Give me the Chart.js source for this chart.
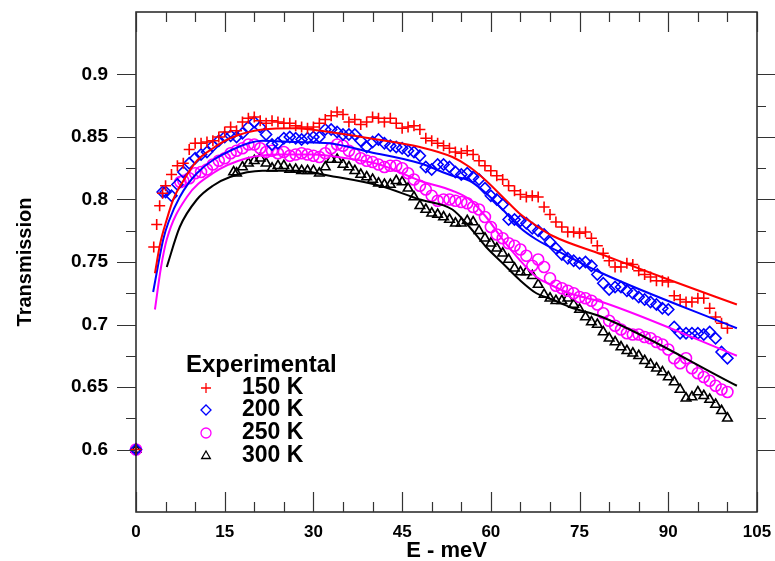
<!DOCTYPE html>
<html>
<head>
<meta charset="utf-8">
<script src="https://cdn.jsdelivr.net/npm/chart.js@4.4.1/dist/chart.umd.min.js"></script>
<style>
html,body{margin:0;padding:0;background:#fff;}
#c{display:block;}
</style>
</head>
<body>
<canvas id="c" width="775" height="561"></canvas>
<script>
// ---------- data ----------
const xTickLabels = [0, 15, 30, 45, 60, 75, 90, 105];
const yTickLabels = [0.6, 0.65, 0.7, 0.75, 0.8, 0.85, 0.9];
const legendTitle = 'Experimental';
const seriesNames = ['150 K', '200 K', '250 K', '300 K'];

// Experimental 150 K
const e150 = [0,3,3.5,4,4.5,5,6,7,8,9,10,11,12,13,14,15,16,17,18,19,20,21,22,23,24,25,26,27,28,29,30,31,32,33,34,35,36,37,38,39,40,41,42,43,44,45,46,47,48,49,50,51,52,53,54,55,56,57,58,59,60,61,62,63,64,65,66,67,68,69,70,71,72,73,74,75,76,77,78,79,80,81,82,83,84,85,86,87,88,89,90,91,92,93,94,95,96,97,98,99,100];
const t150 = [0.6,0.762,0.780,0.795,0.805,0.811,0.820,0.827,0.829,0.840,0.845,0.845,0.846,0.847,0.850,0.854,0.858,0.855,0.862,0.865,0.866,0.863,0.861,0.863,0.862,0.861,0.861,0.859,0.858,0.857,0.858,0.861,0.864,0.867,0.870,0.868,0.862,0.864,0.860,0.862,0.866,0.865,0.862,0.865,0.861,0.857,0.858,0.859,0.856,0.849,0.847,0.845,0.843,0.841,0.838,0.837,0.839,0.836,0.831,0.827,0.823,0.819,0.816,0.811,0.807,0.804,0.802,0.803,0.802,0.794,0.788,0.782,0.778,0.774,0.774,0.773,0.774,0.769,0.763,0.757,0.751,0.746,0.746,0.749,0.748,0.743,0.740,0.738,0.735,0.735,0.734,0.723,0.720,0.718,0.718,0.721,0.721,0.713,0.706,0.701,0.697];

// Experimental 200 K
const e200 = [0,4.5,5,6,7,8,9,10,11,12,13,14,15,16,17,18,19,20,21,22,23,24,25,26,27,28,29,30,31,32,33,34,35,36,37,38,39,40,41,42,43,44,45,46,47,48,49,50,51,52,53,54,55,56,57,58,59,60,61,62,63,64,65,66,67,68,69,70,71,72,73,74,75,76,77,78,79,80,81,82,83,84,85,86,87,88,89,90,91,92,93,94,95,96,97,98,99,100];
const t200 = [0.6,0.806,0.806,0.803,0.812,0.822,0.829,0.833,0.836,0.838,0.843,0.847,0.850,0.851,0.850,0.853,0.858,0.862,0.858,0.852,0.844,0.845,0.849,0.850,0.849,0.848,0.849,0.850,0.850,0.856,0.856,0.854,0.852,0.852,0.852,0.847,0.842,0.846,0.848,0.845,0.843,0.842,0.841,0.839,0.838,0.835,0.826,0.824,0.828,0.828,0.826,0.822,0.820,0.821,0.818,0.816,0.809,0.803,0.800,0.796,0.784,0.784,0.783,0.781,0.777,0.775,0.772,0.766,0.761,0.756,0.753,0.751,0.749,0.750,0.747,0.740,0.733,0.728,0.730,0.730,0.727,0.725,0.722,0.720,0.718,0.716,0.713,0.712,0.698,0.693,0.693,0.693,0.693,0.692,0.694,0.689,0.678,0.673];

// Experimental 250 K
const e250 = [0,7.5,8,9,10,11,12,13,14,15,16,17,18,19,20,21,22,23,24,25,26,27,28,29,30,31,32,33,34,35,36,37,38,39,40,41,42,43,44,45,46,47,48,49,50,51,52,53,54,55,56,57,58,59,60,61,62,63,64,65,66,67,68,69,70,71,72,73,74,75,76,77,78,79,80,81,82,83,84,85,86,87,88,89,90,91,92,93,94,95,96,97,98,99,100];
const t250 = [0.6,0.814,0.815,0.817,0.821,0.822,0.824,0.828,0.831,0.833,0.837,0.839,0.841,0.844,0.844,0.841,0.838,0.839,0.837,0.838,0.835,0.836,0.837,0.836,0.835,0.834,0.837,0.841,0.844,0.843,0.839,0.836,0.833,0.831,0.830,0.828,0.826,0.827,0.827,0.825,0.821,0.816,0.811,0.808,0.803,0.799,0.800,0.800,0.799,0.798,0.797,0.794,0.792,0.786,0.778,0.772,0.769,0.765,0.763,0.760,0.755,0.747,0.752,0.746,0.737,0.731,0.729,0.727,0.725,0.722,0.721,0.719,0.716,0.709,0.703,0.699,0.696,0.693,0.692,0.692,0.690,0.689,0.686,0.684,0.680,0.673,0.669,0.673,0.665,0.661,0.658,0.655,0.651,0.648,0.646];

// Experimental 300 K
const e300 = [0,16.5,17,18,19,20,21,22,23,24,25,26,27,28,29,30,31,32,33,34,35,36,37,38,39,40,41,42,43,44,45,46,47,48,49,50,51,52,53,54,55,56,57,58,59,60,61,62,63,64,65,66,67,68,69,70,71,72,73,74,75,76,77,78,79,80,81,82,83,84,85,86,87,88,89,90,91,92,93,94,95,96,97,98,99,100];
const t300 = [0.6,0.822,0.821,0.826,0.829,0.831,0.833,0.829,0.825,0.827,0.827,0.824,0.824,0.823,0.823,0.823,0.821,0.826,0.832,0.832,0.828,0.826,0.823,0.820,0.818,0.816,0.813,0.812,0.812,0.815,0.814,0.809,0.802,0.795,0.792,0.789,0.788,0.786,0.784,0.781,0.781,0.783,0.782,0.775,0.769,0.765,0.761,0.757,0.752,0.745,0.742,0.742,0.739,0.732,0.724,0.721,0.719,0.719,0.721,0.716,0.712,0.706,0.702,0.700,0.694,0.689,0.686,0.682,0.679,0.677,0.675,0.671,0.668,0.665,0.662,0.658,0.654,0.648,0.641,0.642,0.646,0.643,0.640,0.636,0.631,0.625];

// Fitted curves
const fitE150 = [3.2,4.1,5.2,6.3,8,10.3,13,15.9,21.4,27,32.7,39.5,48,53.5,56.4,59.2,62,64.8,67.7,70.4,78.8,90,101.6];
const fitT150 = [0.741,0.765,0.784,0.800,0.815,0.831,0.841,0.849,0.856,0.857,0.854,0.849,0.842,0.834,0.826,0.815,0.802,0.789,0.779,0.771,0.756,0.736,0.716];
const fitE200 = [2.9,4.6,5.5,7.4,10.3,15.9,21.4,27,32.7,39.5,48,53.5,56.4,59.2,62,64.8,67.7,73.3,78.8,101.6];
const fitT200 = [0.726,0.768,0.782,0.802,0.821,0.839,0.847,0.846,0.845,0.838,0.829,0.819,0.815,0.805,0.792,0.778,0.768,0.754,0.741,0.697];
const fitE250 = [3.2,4.2,5.2,8.6,13,18.7,24.3,29.9,35.6,41.2,48,53.5,56.4,59.2,62,64.8,67.7,70,73.3,78.8,101.6];
const fitT250 = [0.712,0.745,0.768,0.802,0.821,0.833,0.836,0.836,0.833,0.828,0.815,0.807,0.800,0.786,0.768,0.752,0.738,0.732,0.725,0.718,0.675];
const fitE300 = [5.2,7.4,10.3,13,15.9,21.4,27.2,32.7,41.2,48,53.5,56.4,59.2,62,64.8,67.7,70.4,73.3,78.8,101.6];
const fitT300 = [0.746,0.778,0.800,0.811,0.818,0.823,0.823,0.819,0.811,0.800,0.792,0.778,0.762,0.749,0.736,0.725,0.720,0.714,0.706,0.651];

const colors = ['#ff0000', '#0000ff', '#ff00ff', '#000000'];
const styles = ['cross', 'rectRot', 'circle', 'triangle'];

// ---------- build datasets ----------
function pts(xs, ys) { return xs.map((x, i) => ({x: x, y: ys[i]})); }
const expData = [pts(e150, t150), pts(e200, t200), pts(e250, t250), pts(e300, t300)];
const fitData = [pts(fitE150, fitT150), pts(fitE200, fitT200), pts(fitE250, fitT250), pts(fitE300, fitT300)];

const datasets = [];
fitData.forEach((d, i) => {
  datasets.push({
    label: 'fit ' + seriesNames[i], data: d, showLine: true,
    borderColor: colors[i], borderWidth: 2, pointRadius: 0,
    cubicInterpolationMode: 'monotone', fill: false
  });
});
expData.forEach((d, i) => {
  datasets.push({
    label: seriesNames[i], data: d, showLine: false,
    pointStyle: styles[i], pointRadius: 5.5, pointBorderWidth: 1.6,
    pointBorderColor: colors[i], pointBackgroundColor: 'rgba(0,0,0,0)',
    clip: false
  });
});

const FONT = '"Liberation Sans", Arial, sans-serif';

function noPad(s) { s.paddingTop = 0; s.paddingBottom = 0; s.paddingLeft = 0; s.paddingRight = 0; }

// frame + tick marks drawn through the scales
const frameTicks = {
  id: 'frameTicks',
  afterDatasetsDraw(chart) {
    const {ctx, chartArea: a, scales: {x, y}} = chart;
    ctx.save();
    ctx.strokeStyle = '#222';
    ctx.lineWidth = 1.5;
    ctx.strokeRect(a.left, a.top, a.right - a.left, a.bottom - a.top);
    ctx.lineWidth = 1.2;
    ctx.strokeStyle = '#333';
    ctx.beginPath();
    for (let v = 0; v <= 105; v += 5) {
      const px = Math.round(x.getPixelForValue(v)) + 0.5;
      const len = (v % 15 === 0) ? 20 : 10;
      ctx.moveTo(px, a.bottom); ctx.lineTo(px, a.bottom - len);
      ctx.moveTo(px, a.top); ctx.lineTo(px, a.top + len);
    }
    for (let k = 0; k <= 12; k++) {
      const v = 0.6 + k * 0.025;
      const py = Math.round(y.getPixelForValue(v)) + 0.5;
      const len = (k % 2 === 0) ? 19 : 10;
      ctx.moveTo(a.left, py); ctx.lineTo(a.left - len, py);
      ctx.moveTo(a.right, py); ctx.lineTo(a.right + len - 1, py);
    }
    ctx.stroke();
    ctx.restore();
  },
  afterDraw(chart) {
    const ctx = chart.ctx;
    ctx.save();
    ctx.fillStyle = '#000';
    ctx.textBaseline = 'middle';
    ctx.textAlign = 'left';
    ctx.font = 'bold 24px ' + FONT;
    ctx.fillText(legendTitle, 186, 365);
    const rows = [388, 410, 433, 456];
    seriesNames.forEach((n, i) => {
      ctx.strokeStyle = colors[i];
      ctx.fillStyle = 'rgba(0,0,0,0)';
      ctx.lineWidth = 1.3;
      Chart.helpers.drawPoint(ctx, {pointStyle: styles[i], radius: 5, borderWidth: 1.3, rotation: 0}, 206, rows[i]);
      ctx.fillStyle = '#000';
      ctx.font = 'bold 23px ' + FONT;
      ctx.fillText(n, 242, rows[i]);
    });
    ctx.restore();
  }
};

new Chart(document.getElementById('c'), {
  type: 'scatter',
  data: {datasets: datasets},
  options: {
    responsive: false,
    devicePixelRatio: 1,
    animation: false,
    layout: {padding: {left: 8, right: 18, top: 12, bottom: 0}},
    plugins: {legend: {display: false}, tooltip: {enabled: false}},
    scales: {
      x: {
        type: 'linear', min: 0, max: 105,
        afterFit(s) { s.height = 49; noPad(s); },
        afterBuildTicks(s) { s.ticks = xTickLabels.map(v => ({value: v})); },
        grid: {display: false, drawTicks: false},
        border: {display: false},
        ticks: {padding: 10, color: '#000', font: {family: FONT, weight: 'bold', size: 17},
                callback: v => String(v), maxRotation: 0, autoSkip: false},
        title: {display: true, text: 'E - meV', color: '#000', padding: {top: 0, bottom: -3},
                font: {family: FONT, weight: 'bold', size: 22}}
      },
      y: {
        type: 'linear', min: 0.55, max: 0.95,
        afterFit(s) { s.width = 128; noPad(s); },
        afterBuildTicks(s) { s.ticks = yTickLabels.map(v => ({value: v})); },
        grid: {display: false, drawTicks: false},
        border: {display: false},
        ticks: {padding: 28, color: '#000', font: {family: FONT, weight: 'bold', size: 19},
                callback: v => String(Number(v.toFixed(3))), autoSkip: false},
        title: {display: true, text: 'Transmission', color: '#000', padding: {top: 5, bottom: 0},
                font: {family: FONT, weight: 'bold', size: 20}}
      }
    }
  },
  plugins: [frameTicks]
});
</script>
</body>
</html>
